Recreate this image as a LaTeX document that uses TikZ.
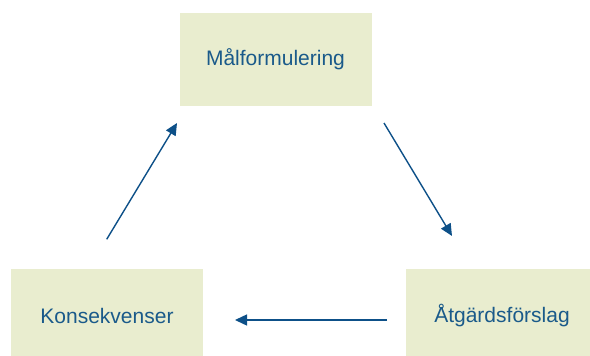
\documentclass[tikz,border=0pt]{standalone}
\usepackage{fontspec}
\setmainfont{Liberation Sans}
\usetikzlibrary{arrows.meta}
\definecolor{boxfill}{HTML}{E9EDCF}
\definecolor{txtblue}{HTML}{1A5A8A}
\definecolor{arrblue}{HTML}{0D5088}
\tikzset{
  stagebox/.style={fill=boxfill, draw=none, minimum width=192pt, minimum height=93pt, inner sep=0pt,
    text=txtblue, font=\fontsize{21}{25}\selectfont},
  cyclearrow/.style={draw=arrblue, line width=1.4pt, -{Triangle[length=12pt,width=11pt]}}
}
\begin{document}
\begin{tikzpicture}[x=1pt,y=-1pt]
\useasboundingbox (0,0) rectangle (590,356);
\node[stagebox] (mal) at (275.5,59.5) {Målformulering};
\node[stagebox] (kons) at (107,315.5) {Konsekvenser};
\node[stagebox] (atg) at (502,315.5) {Åtgärdsförslag};
\coordinate (a1s) at (106.7,239.3);
\coordinate (a1e) at (177,123);
\coordinate (a2s) at (384,123);
\coordinate (a2e) at (452,236);
\coordinate (a3s) at (387,320);
\coordinate (a3e) at (235,320);
\draw[cyclearrow] (a1s) -- (a1e);
\draw[cyclearrow] (a2s) -- (a2e);
\draw[cyclearrow] (a3s) -- (a3e);
\end{tikzpicture}
\end{document}
